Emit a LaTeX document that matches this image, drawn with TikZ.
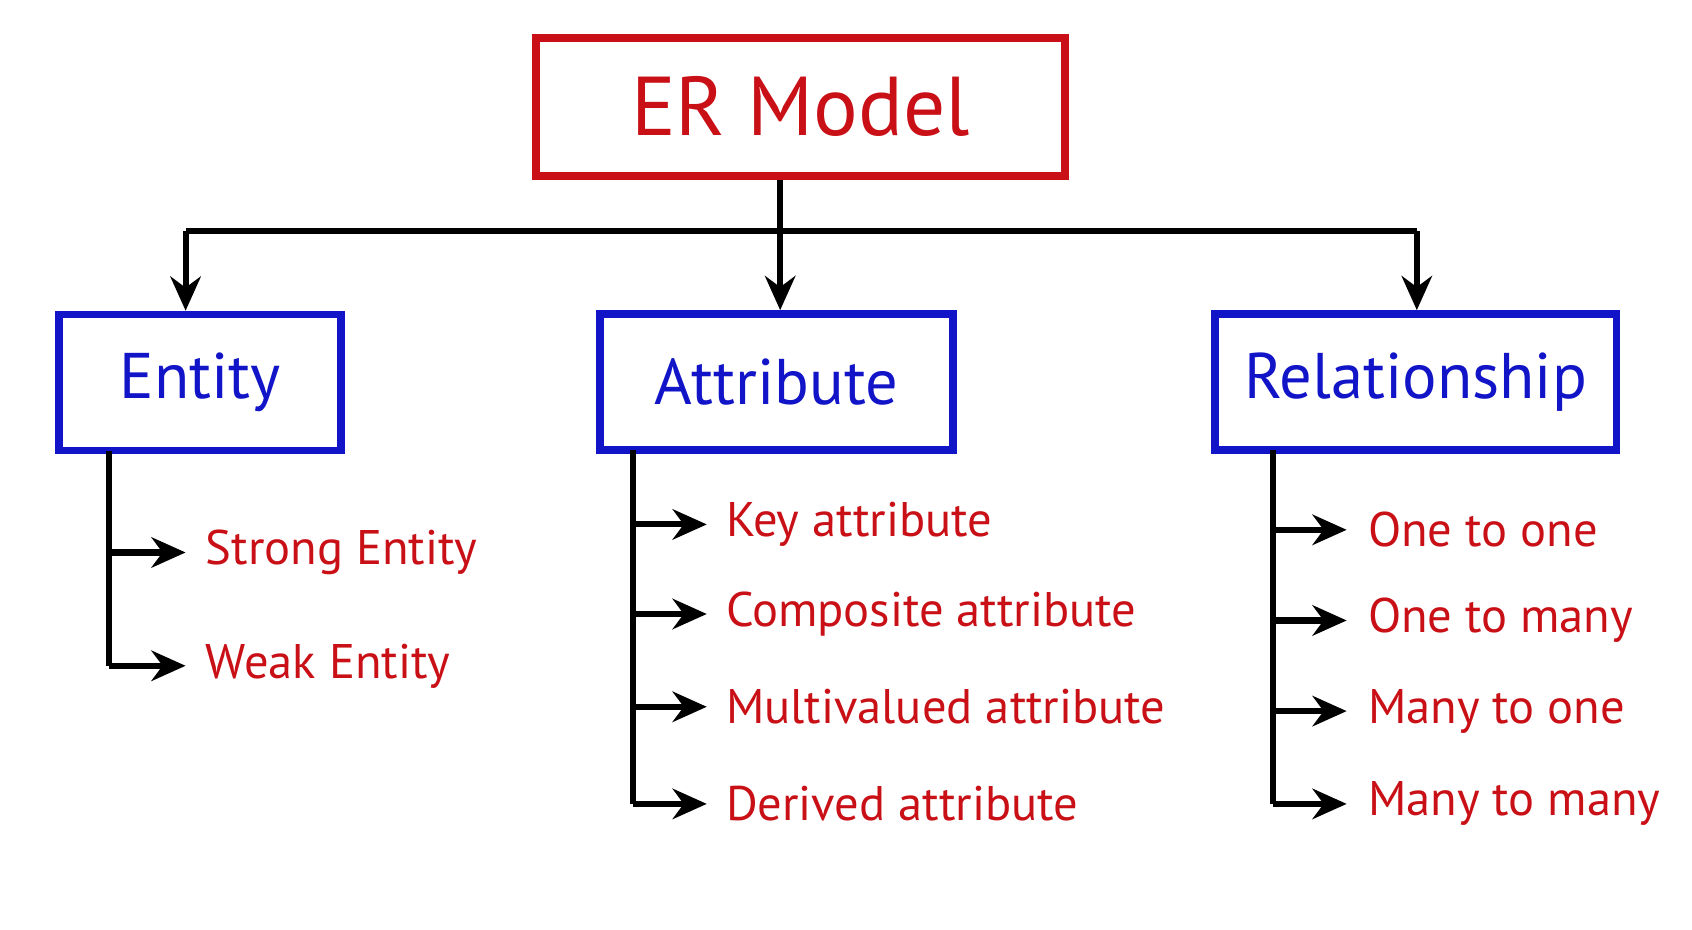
\documentclass[tikz,border=0pt]{standalone}
\usepackage{fontspec}
\setmainfont{PT Sans}
\usetikzlibrary{positioning, arrows.meta}
\definecolor{erred}{RGB}{200,16,22}
\definecolor{erblue}{RGB}{18,20,200}
\begin{document}
\begin{tikzpicture}[x=0.01cm, y=-0.01cm, line width=1.6pt,
    root/.style={draw=erred, text=erred, line width=2pt, minimum width=4.9cm, minimum height=1.28cm, font=\fontsize{22}{26}\selectfont},
    cat/.style={draw=erblue, text=erblue, line width=2pt, minimum height=1.26cm, font=\fontsize{17}{20}\selectfont},
    item/.style={text=erred, anchor=west, inner sep=0pt, font=\fontsize{12.8}{15}\selectfont},
    arr/.style={-{Stealth[length=9pt, width=8pt]}}]
  \useasboundingbox (0,0) rectangle (1568,861);
  \node[root] (er) at (742,99) {ER Model};
  \node[cat, minimum width=2.61cm] (ent) at (185.5,354.5) {Entity};
  \node[cat, minimum width=3.27cm] (att) at (719.5,354) {Attribute};
  \node[cat, minimum width=3.72cm] (rel) at (1312,354) {Relationship};
  \coordinate (j) at (723,214);
  \coordinate (jl) at (172,214);
  \coordinate (jr) at (1313,214);
  \draw (er.south -| j) -- (j);
  \draw (jl) -- (jr);
  \draw[arr] (jl) -- (jl |- ent.north);
  \draw[arr] (j) -- (j |- att.north);
  \draw[arr] (jr) -- (jr |- rel.north);
  % entity
  \node[item] (e1) at (188,512) {Strong Entity};
  \node[item] (e2) at (188,617) {Weak Entity};
  \coordinate (et) at (101,418);
  \draw (et) -- (et |- e2);
  \foreach \n in {e1,e2} \draw[arr] (et |- \n) -- ([xshift=-0.16cm]\n.west);
  % attribute
  \node[item] (a1) at (670,486) {Key attribute};
  \node[item] (a2) at (670,569) {Composite attribute};
  \node[item] (a3) at (670,655) {Multivalued attribute};
  \node[item] (a4) at (670,745) {Derived attribute};
  \coordinate (at) at (587,417);
  \draw (at) -- (at |- a4);
  \foreach \n in {a1,a2,a3,a4} \draw[arr] (at |- \n) -- ([xshift=-0.15cm]\n.west);
  % relationship
  \node[item] (r1) at (1265,491) {One to one};
  \node[item] (r2) at (1265,575) {One to many};
  \node[item] (r3) at (1265,659) {Many to one};
  \node[item] (r4) at (1265,745) {Many to many};
  \coordinate (rt) at (1180,417);
  \draw (rt) -- (rt |- r4);
  \foreach \n in {r1,r2,r3,r4} \draw[arr] (rt |- \n) -- ([xshift=-0.17cm]\n.west);
\end{tikzpicture}
\end{document}
